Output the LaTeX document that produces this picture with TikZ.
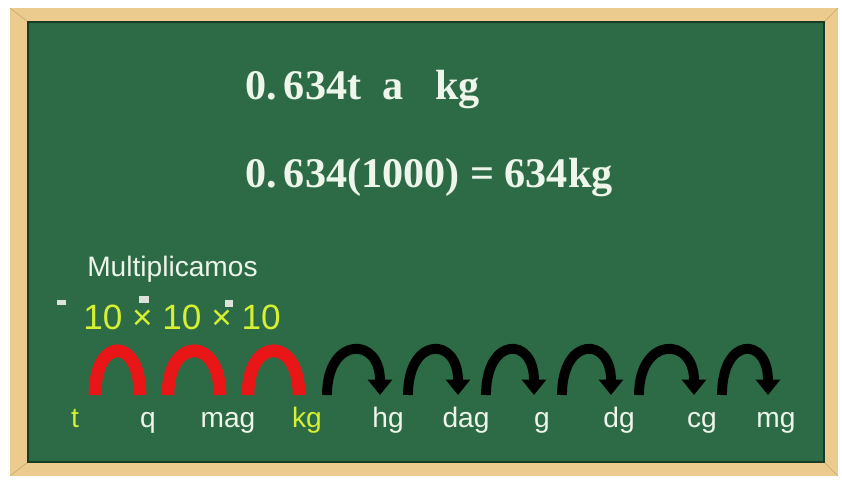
\documentclass[tikz,border=0pt]{standalone}
\usepackage{fontspec}
\newfontfamily\chalkfont{Liberation Sans}
\newfontfamily\boardserif{Liberation Serif}
\usetikzlibrary{arrows.meta,calc}
\definecolor{board}{RGB}{44,107,70}
\definecolor{wood}{RGB}{236,204,142}
\definecolor{woodedge}{RGB}{200,164,104}
\definecolor{chalk}{RGB}{238,245,234}
\definecolor{yel}{RGB}{214,240,50}
\definecolor{redarc}{RGB}{232,22,22}
\tikzset{
  unitlabel/.style={anchor=base,inner sep=0pt,font=\chalkfont\fontsize{20}{22}\selectfont},
  formula/.style={anchor=base west,inner sep=0pt,text=chalk,font=\boardserif\bfseries\fontsize{30}{32}\selectfont},
  redhop/.style={draw=redarc,line width=9pt},
  blackhop/.style={draw=black,line width=7pt,-{Triangle[width=17pt,length=11pt]}},
  speck/.style={fill=chalk!85!gray,draw=none},
}
\begin{document}
\begin{tikzpicture}[x=0.025cm,y=0.025cm]
 \useasboundingbox (0,0) rectangle (842,480);
 % frame and board
 \fill[white] (0,0) rectangle (842,480);
 \fill[wood] (10,4) rectangle (838,472);
 \draw[woodedge] (10,4) -- (28,18); \draw[woodedge] (838,4) -- (824,18);
 \draw[woodedge] (10,472) -- (28,458); \draw[woodedge] (838,472) -- (824,458);
 \fill[board] (28,18) rectangle (824,458);
 \draw[board!55!black,line width=1.2pt] (28,18) rectangle (824,458);
 % formulas
 \node[formula] (task) at (245,380) {0.\,634t\ \ a\ \ \ kg};
 \node[formula] (calc) at (245,292) {0.\,634(1000) = 634kg};
 % multiply note
 \node[anchor=base west,inner sep=0pt,text=chalk,font=\chalkfont\fontsize{20}{22}\selectfont] (mult) at (87,203) {Multiplicamos};
 \node[anchor=base west,inner sep=0pt,text=yel,font=\chalkfont\fontsize{25}{27}\selectfont] (tens) at (83,150) {10 × 10 × 10};
 \fill[speck] (57,175) rectangle (66,180);
 \fill[speck] (139,177) rectangle (149,184);
 \fill[speck] (225,173) rectangle (233,180);
 % units
 \foreach \n/\x/\txt/\col in {1/75/t/yel, 2/148/q/chalk, 3/228/mag/chalk, 4/307/kg/yel,
   5/388/hg/chalk, 6/466/dag/chalk, 7/542/g/chalk, 8/619/dg/chalk, 9/702/cg/chalk, 10/776/mg/chalk}
   \node[unitlabel,text=\col] (u\n) at (\x,52) {\txt};
 % hops
 \foreach \a/\b/\sty in {1/2/redhop, 2/3/redhop, 3/4/redhop, 4/5/blackhop, 5/6/blackhop,
   6/7/blackhop, 7/8/blackhop, 8/9/blackhop, 9/10/blackhop}
   \draw[\sty] ($(u\a.base)+(20,33)$) .. controls +(0,59) and +(0,59) .. ($(u\b.base)+(-8,33)$);
\end{tikzpicture}
\end{document}
